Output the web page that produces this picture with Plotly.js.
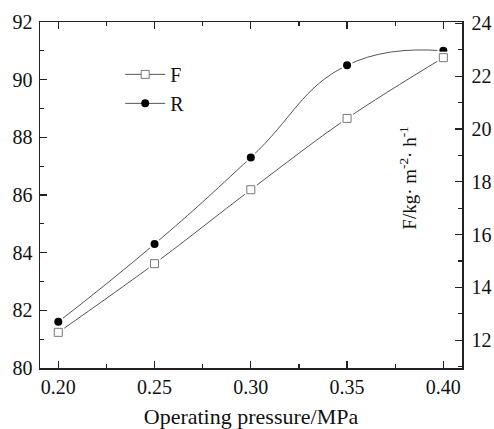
<!DOCTYPE html>
<html><head><meta charset="utf-8">
<script src="https://cdn.plot.ly/plotly-3.0.1.min.js"></script>
<style>html,body{margin:0;padding:0;background:#fff}#c{width:494px;height:429px}</style>
</head><body><div id="c"></div>
<script>
const pressure = [0.20, 0.25, 0.30, 0.35, 0.40];
const rejection = [81.6, 84.3, 87.3, 90.5, 91.0];
const flux = [12.3, 14.9, 17.7, 20.4, 22.7];
const xTicks = [0.20, 0.25, 0.30, 0.35, 0.40];
const xTickText = ["0.20", "0.25", "0.30", "0.35", "0.40"];

const font = "Liberation Serif, Times New Roman, serif";
const lineCol = "#555";

const traces = [
  {x: pressure, y: flux, yaxis: "y2", name: "F", mode: "lines+markers",
   line: {shape: "spline", smoothing: 1, color: lineCol, width: 1},
   marker: {symbol: "square", size: 8, color: "#fff", line: {color: "#777", width: 1}}},
  {x: pressure, y: rejection, name: "R", mode: "lines+markers",
   line: {shape: "spline", smoothing: 1.3, color: lineCol, width: 1},
   marker: {symbol: "circle", size: 8, color: "#000", line: {color: "#000", width: 0}}},
  {x: pressure, y: flux, yaxis: "y2", mode: "markers", showlegend: false, hoverinfo: "skip",
   marker: {symbol: "square", size: 12, color: "#fff"}},
  {x: pressure, y: rejection, mode: "markers", showlegend: false, hoverinfo: "skip",
   marker: {symbol: "circle", size: 12, color: "#fff"}},
  {x: pressure, y: flux, yaxis: "y2", mode: "markers", showlegend: false, hoverinfo: "skip",
   marker: {symbol: "square", size: 8, color: "#fff", line: {color: "#777", width: 1}}},
  {x: pressure, y: rejection, mode: "markers", showlegend: false, hoverinfo: "skip",
   marker: {symbol: "circle", size: 8, color: "#000"}}
];

const layout = {
  width: 494, height: 429,
  margin: {l: 40, r: 32, t: 22, b: 61},
  paper_bgcolor: "#fff", plot_bgcolor: "#fff",
  font: {family: font, color: "#111", size: 20},
  showlegend: true,
  legend: {x: 0.19, y: 0.905, xanchor: "left", yanchor: "top", bgcolor: "rgba(0,0,0,0)",
    font: {family: font, size: 20, color: "#111"}, tracegroupgap: 0, itemwidth: 40},
  xaxis: {range: [0.1905, 0.4097], tickvals: xTicks, ticktext: xTickText,
    ticks: "inside", ticklen: 7, tickwidth: 1.2, tickcolor: "#222",
    showline: true, linecolor: "#222", linewidth: 1.5, mirror: "ticks",
    showgrid: false, zeroline: false,
    minor: {dtick: 0.025, tick0: 0.2, ticks: "inside", ticklen: 4, tickcolor: "#222", showgrid: false},
    tickfont: {family: font, size: 20, color: "#111"},
    title: {text: "Operating pressure/MPa", font: {family: font, size: 22, color: "#111"}, standoff: 18}},
  yaxis: {range: [80, 92], dtick: 2, tick0: 80,
    ticks: "inside", ticklen: 7, tickwidth: 1.2, tickcolor: "#222",
    showline: true, linecolor: "#222", linewidth: 1.5, mirror: false,
    showgrid: false, zeroline: false,
    minor: {dtick: 1, ticks: "inside", ticklen: 4, tickcolor: "#222", showgrid: false},
    tickfont: {family: font, size: 20, color: "#111"}, ticklabelstandoff: 2},
  yaxis2: {overlaying: "y", side: "right", range: [10.95, 24.05], dtick: 2, tick0: 12,
    ticks: "inside", ticklen: 7, tickwidth: 1.2, tickcolor: "#222",
    showline: true, linecolor: "#222", linewidth: 1.5,
    showgrid: false, zeroline: false,
    minor: {dtick: 1, ticks: "inside", ticklen: 4, tickcolor: "#222", showgrid: false},
    tickfont: {family: font, size: 20, color: "#111"}, ticklabelstandoff: 4},
  annotations: [{
    text: "F/kg· m<sup>-2</sup>· h<sup>-1</sup>", textangle: -90,
    xref: "paper", yref: "paper", x: 0.872, y: 0.55, xanchor: "center", yanchor: "middle",
    showarrow: false,
    font: {family: font, size: 19, color: "#111"}
  }]
};

Plotly.newPlot("c", traces, layout, {displayModeBar: false, staticPlot: true});
</script>
</body></html>
